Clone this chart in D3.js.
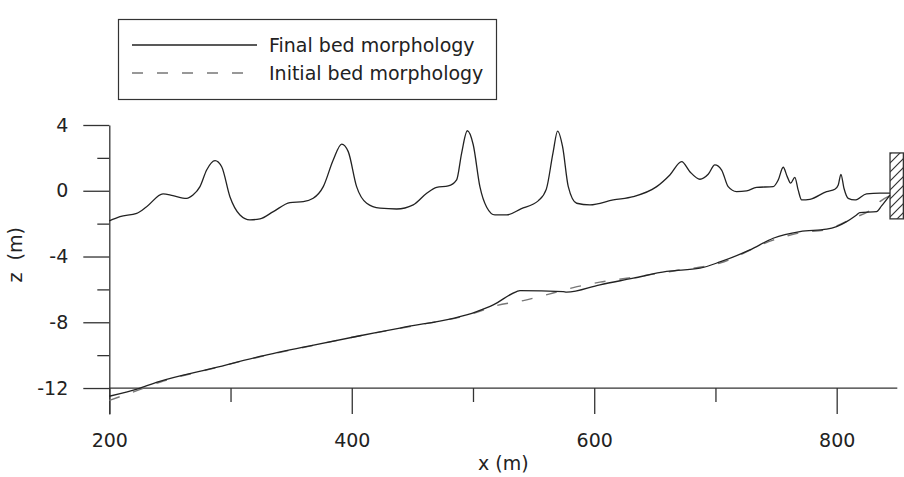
<!DOCTYPE html>
<html>
<head>
<meta charset="utf-8">
<script src="https://cdn.jsdelivr.net/npm/d3@7"></script>
<style>
  body { margin: 0; background: #fff; }
  svg text { font-family: "DejaVu Sans", sans-serif; fill: #222; }
</style>
</head>
<body>
<svg width="904" height="477"></svg>
<script>
// upper profile (solid)
let upperX = [200, 208.8, 222.6, 230.8, 244.3, 252.5, 263.8, 269.0, 274.8, 280.3, 287.2, 292.7, 299.5, 307.8, 316.0, 324.3, 335.3, 349.0, 360.0, 368.2, 376.5, 384.7, 391.7, 397.1, 404.0, 412.3, 423.3, 437.0, 450.7, 461.8, 470.0, 479.6, 486.5, 490.6, 495.3, 500.2, 505.7, 511.3, 518.1, 527.8, 539.5, 554.0, 560.5, 566.0, 569.8, 573.9, 578.6, 585.5, 596.5, 615.7, 632.2, 651.5, 662.4, 672.1, 678.9, 687.2, 694.0, 699.5, 705.1, 710.5, 717.4, 725.7, 733.9, 747.6, 751.8, 755.9, 759.2, 762.0, 765.5, 768.2, 771.1, 777.9, 791.7, 798.5, 801.3, 803.5, 806.0, 809.5, 815.0, 824.6, 835.6, 843.9];
let upperZ = [-1.83, -1.57, -1.37, -0.97, -0.19, -0.30, -0.46, -0.26, 0.25, 1.26, 1.83, 1.46, -0.36, -1.47, -1.77, -1.71, -1.27, -0.72, -0.66, -0.46, 0.25, 1.87, 2.84, 2.38, 0.25, -0.76, -1.06, -1.11, -0.86, -0.15, 0.21, 0.29, 0.66, 2.28, 3.65, 2.8, 0.25, -1.0, -1.47, -1.47, -1.1, -0.6, 0.1, 2.3, 3.63, 2.68, 0.25, -0.76, -0.86, -0.56, -0.36, 0.25, 0.96, 1.77, 1.16, 0.70, 1.0, 1.57, 1.26, 0.25, -0.05, -0.01, 0.21, 0.25, 0.66, 1.43, 0.86, 0.46, 0.82, 0.05, -0.56, -0.52, -0.05, 0.09, 0.35, 1.0, 0.15, -0.46, -0.56, -0.19, -0.15, -0.15];

// final bed morphology (solid)
let finalX = [200, 225.4, 241.6, 283.1, 324.3, 365.5, 406.8, 439.7, 503.0, 516.7, 536.0, 538.7, 574.4, 577.2, 604.7, 632.2, 659.7, 687.2, 703.7, 728.4, 747.6, 769.7, 791.7, 799.9, 808.2, 816.4, 819.1, 832.9, 837.0, 843.9];
let finalZ = [-12.5, -12.0, -11.6, -10.84, -10.08, -9.43, -8.82, -8.35, -7.35, -6.94, -6.13, -6.07, -6.13, -6.17, -5.72, -5.32, -4.91, -4.71, -4.33, -3.6, -2.89, -2.48, -2.34, -2.18, -1.88, -1.47, -1.33, -1.27, -0.92, -0.26];

// initial bed morphology (dashed)
let initialX = [200, 225, 241.6, 283.1, 324.3, 365.5, 406.8, 448.0, 503.0, 516.7, 541.5, 563.5, 582.7, 604.7, 626.7, 668.0, 703.7, 747.6, 770.0, 792.0, 813.6, 830.1, 835.6, 843.9];
let initialZ = [-12.75, -12.1, -11.65, -10.85, -10.1, -9.45, -8.82, -8.26, -7.4, -7.04, -6.68, -6.27, -5.89, -5.56, -5.32, -4.85, -4.4, -3.0, -2.55, -2.35, -1.67, -1.06, -0.66, -0.3];

// hatched wall at the right end
let wallX = [844, 855];
let wallZ = [-1.71, 2.3];

let xMajor = [200, 400, 600, 800];
let xMinor = [300, 500, 700];
let zMajor = [4, 0, -4, -8, -12];
let zMinor = [2, -2, -6, -10];

let legendItems = [
  { name: 'Final bed morphology', dash: null, color: '#222' },
  { name: 'Initial bed morphology', dash: '11,14', color: '#777' },
];

let svg = d3.select('svg');
let x = d3.scaleLinear().domain([200, 850]).range([109.3, 897.3]);
let y = d3.scaleLinear().domain([-13.58, 4]).range([414, 125]);

function pairs(xs, zs) {
  return xs.map((v, i) => [v, zs[i]]);
}

let line = d3
  .line()
  .x((d) => x(d[0]))
  .y((d) => y(d[1]))
  .curve(d3.curveMonotoneX);

// axes
let xAxisY = y(-12);
let xAxis = svg.append('g').attr('transform', `translate(0,${xAxisY})`);
xAxis.call(
  d3.axisBottom(x).tickValues(xMajor).tickSize(26).tickSizeOuter(0).tickPadding(19).tickFormat((d) => String(d))
);
xAxis.call((g) => g.select('.domain').remove());
xAxis
  .append('line')
  .attr('x1', x(200))
  .attr('x2', x(850))
  .attr('stroke', '#333');
svg
  .append('g')
  .attr('transform', `translate(0,${xAxisY})`)
  .call(d3.axisBottom(x).tickValues(xMinor).tickSize(14).tickFormat(''))
  .call((g) => g.select('.domain').remove());

let yAxis = svg.append('g').attr('transform', `translate(${x(200)},0)`);
yAxis.call(
  d3.axisLeft(y).tickValues(zMajor).tickSize(26).tickSizeOuter(0).tickPadding(15).tickFormat((d) => String(d))
);
svg
  .append('g')
  .attr('transform', `translate(${x(200)},0)`)
  .call(d3.axisLeft(y).tickValues(zMinor).tickSize(12).tickFormat(''))
  .call((g) => g.select('.domain').remove());

svg.selectAll('.tick line, .domain, g > line').attr('stroke', '#333').attr('stroke-width', 1.3);
svg.selectAll('.tick text').attr('font-size', 19).attr('fill', '#222').style('font-family', '"DejaVu Sans", sans-serif');

svg
  .append('text')
  .attr('x', x(525))
  .attr('y', 470)
  .attr('text-anchor', 'middle')
  .attr('font-size', 19)
  .text('x (m)');

svg
  .append('text')
  .attr('transform', `translate(22,${y(-3.9)}) rotate(-90)`)
  .attr('text-anchor', 'middle')
  .attr('font-size', 19)
  .attr('xml:space', 'preserve')
  .style('white-space', 'pre')
  .text('z  (m)');

// wall
let defs = svg.append('defs');
defs
  .append('pattern')
  .attr('id', 'hatch')
  .attr('patternUnits', 'userSpaceOnUse')
  .attr('width', 9)
  .attr('height', 9)
  .append('path')
  .attr('d', 'M-1,1 l2,-2 M0,9 l9,-9 M8,10 l2,-2')
  .attr('stroke', '#333')
  .attr('stroke-width', 1.2);

svg
  .append('rect')
  .attr('x', x(wallX[0]))
  .attr('y', y(wallZ[1]))
  .attr('width', x(wallX[1]) - x(wallX[0]))
  .attr('height', y(wallZ[0]) - y(wallZ[1]))
  .attr('fill', 'url(#hatch)')
  .attr('stroke', '#333')
  .attr('stroke-width', 1.3);

// curves
let plot = svg.append('g').attr('fill', 'none');
plot
  .append('path')
  .attr('d', line(pairs(initialX, initialZ)))
  .attr('stroke', '#777')
  .attr('stroke-width', 1.4)
  .attr('stroke-dasharray', '11,14');
plot
  .append('path')
  .attr('d', line(pairs(finalX, finalZ)))
  .attr('stroke', '#222')
  .attr('stroke-width', 1.3);
plot
  .append('path')
  .attr('d', line(pairs(upperX, upperZ)))
  .attr('stroke', '#222')
  .attr('stroke-width', 1.3);

// legend
let legend = svg.append('g');
legend
  .append('rect')
  .attr('x', 118.5)
  .attr('y', 19.5)
  .attr('width', 378)
  .attr('height', 80)
  .attr('fill', '#fff')
  .attr('stroke', '#333')
  .attr('stroke-width', 1.2);

let items = legend
  .selectAll('g.item')
  .data(legendItems)
  .enter()
  .append('g')
  .classed('item', true)
  .attr('transform', (d, i) => `translate(0,${45 + i * 28})`);
items
  .append('line')
  .attr('x1', 132)
  .attr('x2', 257)
  .attr('stroke', (d) => d.color)
  .attr('stroke-width', 1.4)
  .attr('stroke-dasharray', (d) => d.dash);
items
  .append('text')
  .attr('x', 269)
  .attr('dy', '0.35em')
  .attr('font-size', 19)
  .text((d) => d.name);
</script>
</body>
</html>
